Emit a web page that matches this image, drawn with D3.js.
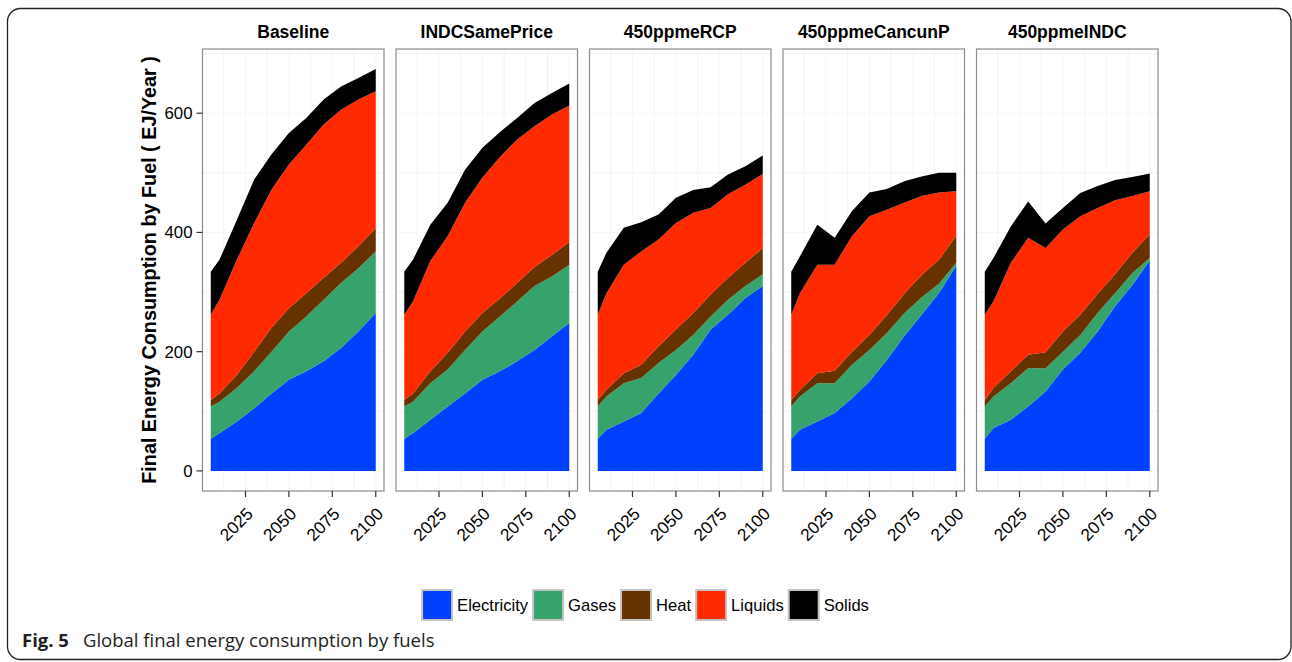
<!DOCTYPE html>
<html>
<head>
<meta charset="utf-8">
<script src="https://cdn.jsdelivr.net/npm/d3@7/dist/d3.min.js"></script>
<style>
  html, body { margin: 0; padding: 0; background: #ffffff; }
  svg { display: block; }
</style>
</head>
<body>
<svg id="chart" width="1292" height="662"></svg>
<script>
// Model periods
const years = [2005, 2010, 2020, 2030, 2040, 2050, 2060, 2070, 2080, 2090, 2100];

// Scenario facets, left to right
const scenarios = ["Baseline", "INDCSamePrice", "450ppmeRCP", "450ppmeCancunP", "450ppmeINDC"];

// Fuels in stacking order (bottom to top)
const fuels = ["Electricity", "Gases", "Heat", "Liquids", "Solids"];
const fuelColors = ["#0040ff", "#36a36d", "#663300", "#ff2a00", "#000000"];

// Final energy by fuel, EJ/year; one row per scenario in the order above
const electricity = [
  [54, 63, 83, 105, 130, 153, 167, 184, 206, 234, 265],
  [54, 63, 86, 108, 130, 153, 167, 184, 203, 226, 248],
  [54, 69, 83, 97, 130, 161, 195, 237, 262, 290, 310],
  [54, 69, 83, 97, 122, 150, 186, 226, 262, 298, 344],
  [54, 72, 86, 108, 133, 170, 198, 234, 276, 312, 353]
];
const gases = [
  [54, 53, 56, 62, 70, 81, 92, 103, 109, 106, 103],
  [54, 53, 61, 62, 73, 81, 92, 100, 107, 100, 98],
  [54, 56, 64, 59, 51, 42, 33, 22, 25, 20, 20],
  [54, 56, 64, 50, 56, 53, 45, 38, 29, 16, 5],
  [54, 53, 61, 64, 39, 30, 30, 31, 22, 20, 4]
];
const heat = [
  [11, 14, 22, 33, 40, 39, 39, 37, 34, 37, 39],
  [11, 14, 20, 28, 31, 31, 30, 31, 32, 36, 38],
  [11, 11, 17, 22, 28, 34, 37, 37, 37, 39, 44],
  [11, 11, 17, 21, 22, 25, 30, 33, 37, 40, 45],
  [11, 14, 20, 23, 27, 34, 34, 32, 32, 34, 40]
];
const liquids = [
  [143, 157, 193, 216, 232, 241, 249, 257, 257, 246, 230],
  [143, 154, 185, 196, 216, 227, 237, 241, 236, 236, 229],
  [143, 162, 182, 190, 179, 179, 168, 145, 140, 131, 124],
  [143, 162, 182, 178, 194, 199, 177, 153, 133, 113, 75],
  [143, 145, 182, 196, 175, 171, 165, 144, 124, 95, 72]
];
const solids = [
  [72, 67, 67, 73, 59, 53, 45, 42, 39, 36, 37],
  [72, 70, 61, 56, 55, 50, 42, 36, 39, 36, 37],
  [72, 68, 62, 49, 42, 42, 38, 35, 33, 31, 31],
  [72, 62, 67, 45, 42, 40, 35, 36, 33, 33, 31],
  [72, 73, 61, 61, 41, 36, 39, 37, 34, 32, 30]
];

const yTicks = [0, 200, 400, 600];
const xTicks = [2025, 2050, 2075, 2100];
const yTitle = "Final Energy Consumption by Fuel ( EJ/Year )";
const captionLabel = "Fig. 5";
const captionText = "Global final energy consumption by fuels";

const seriesByFuel = [electricity, gases, heat, liquids, solids];

// ---- layout ----
const svg = d3.select("#chart");
const FONT = '"Liberation Sans", Arial, Helvetica, sans-serif';
const CAPTION_FONT = '"Open Sans", "Noto Sans", sans-serif';
const panelTop = 49, panelBottom = 491;
const panelLeft0 = 202.5, panelW = 181.5, panelGap = 12;
const panelH = panelBottom - panelTop;

// Outer figure frame
svg.append("rect")
  .attr("x", 7.5).attr("y", 8.5)
  .attr("width", 1283.5).attr("height", 651)
  .attr("rx", 13).attr("ry", 13)
  .attr("fill", "none").attr("stroke", "#231f20").attr("stroke-width", 1.3);

// Build stacked tables per scenario
const tables = scenarios.map((s, si) => years.map((yr, i) => {
  const row = { year: yr };
  fuels.forEach((f, fi) => { row[f] = seriesByFuel[fi][si][i]; });
  return row;
}));
const stack = d3.stack().keys(fuels);
const stacked = tables.map(t => stack(t));

const maxTotal = d3.max(stacked, st => d3.max(st[st.length - 1], d => d[1]));
const yPad = maxTotal * 0.05;
const xPad = (years[years.length - 1] - years[0]) * 0.05;

const x = d3.scaleLinear()
  .domain([years[0] - xPad, years[years.length - 1] + xPad])
  .range([0, panelW]);
const y = d3.scaleLinear()
  .domain([-yPad, maxTotal + yPad])
  .range([panelH, 0]);

const area = d3.area()
  .x(d => x(d.data.year))
  .y0(d => y(d[0]))
  .y1(d => y(d[1]));

scenarios.forEach((name, si) => {
  const left = panelLeft0 + si * (panelW + panelGap);
  const g = svg.append("g").attr("transform", `translate(${left},${panelTop})`);

  // panel background and grid
  g.append("rect").attr("width", panelW).attr("height", panelH).attr("fill", "#ffffff");
  const minorX = xTicks.map(t => t - 12.5);
  const minorY = [100, 300, 500, 700];
  g.selectAll(".gx-minor").data(minorX).join("line")
    .attr("x1", d => x(d)).attr("x2", d => x(d))
    .attr("y1", 0).attr("y2", panelH)
    .attr("stroke", "#f2f2f2").attr("stroke-width", 1);
  g.selectAll(".gy-minor").data(minorY).join("line")
    .attr("x1", 0).attr("x2", panelW)
    .attr("y1", d => y(d)).attr("y2", d => y(d))
    .attr("stroke", "#f2f2f2").attr("stroke-width", 1);
  g.selectAll(".gx-major").data(xTicks).join("line")
    .attr("x1", d => x(d)).attr("x2", d => x(d))
    .attr("y1", 0).attr("y2", panelH)
    .attr("stroke", "#f7f7f7").attr("stroke-width", 1);
  g.selectAll(".gy-major").data(yTicks).join("line")
    .attr("x1", 0).attr("x2", panelW)
    .attr("y1", d => y(d)).attr("y2", d => y(d))
    .attr("stroke", "#f7f7f7").attr("stroke-width", 1);

  // stacked areas
  g.selectAll("path.layer").data(stacked[si]).join("path")
    .attr("class", "layer")
    .attr("d", area)
    .attr("fill", (d, i) => fuelColors[i]);

  // panel border
  g.append("rect").attr("width", panelW).attr("height", panelH)
    .attr("fill", "none").attr("stroke", "#8c8c8c").attr("stroke-width", 1.2);

  // strip title
  svg.append("text")
    .attr("x", left + panelW / 2).attr("y", 38)
    .attr("text-anchor", "middle")
    .attr("font-family", FONT).attr("font-weight", "bold").attr("font-size", 17.5)
    .text(name);

  // x axis ticks and rotated labels
  const ax = svg.append("g").attr("transform", `translate(${left},${panelBottom})`);
  ax.selectAll("line").data(xTicks).join("line")
    .attr("x1", d => x(d)).attr("x2", d => x(d))
    .attr("y1", 0).attr("y2", 6)
    .attr("stroke", "#333").attr("stroke-width", 1.2);
  ax.selectAll("text").data(xTicks).join("text")
    .attr("transform", d => `translate(${x(d) + 8.5},${24}) rotate(-45)`)
    .attr("text-anchor", "end")
    .attr("font-family", FONT).attr("font-size", 17.2)
    .text(d => d);

  // y axis on the first facet only
  if (si === 0) {
    const ay = svg.append("g").attr("transform", `translate(${left},${panelTop})`);
    ay.selectAll("line").data(yTicks).join("line")
      .attr("x1", -6).attr("x2", 0)
      .attr("y1", d => y(d)).attr("y2", d => y(d))
      .attr("stroke", "#333").attr("stroke-width", 1.2);
    ay.selectAll("text").data(yTicks).join("text")
      .attr("x", -10).attr("y", d => y(d))
      .attr("dy", "0.36em")
      .attr("text-anchor", "end")
      .attr("font-family", FONT).attr("font-size", 16.8)
      .text(d => d);
  }
});

// y axis title
svg.append("text")
  .attr("transform", `translate(155.5,${(panelTop + panelBottom) / 2}) rotate(-90)`)
  .attr("text-anchor", "middle")
  .attr("font-family", FONT).attr("font-weight", "bold").attr("font-size", 19.8)
  .text(yTitle);

// legend, laid out as a centred row
const legend = svg.append("g");
const keySize = 30, keyGap = 4, itemGap = 4;
let cursor = 0;
fuels.forEach((f, i) => {
  const it = legend.append("g");
  it.append("rect")
    .attr("x", cursor + 1).attr("y", 590)
    .attr("width", keySize).attr("height", keySize)
    .attr("fill", fuelColors[i]).attr("stroke", "#c4c4c4").attr("stroke-width", 2);
  const t = it.append("text")
    .attr("x", cursor + keySize + 2 + keyGap).attr("y", 611)
    .attr("font-family", FONT).attr("font-size", 16.6)
    .text(f);
  cursor += keySize + 2 + keyGap + t.node().getComputedTextLength() + itemGap;
});
const legendWidth = cursor - itemGap;
legend.attr("transform", `translate(${645 - legendWidth / 2},0)`);

// caption
svg.append("text")
  .attr("x", 22).attr("y", 647)
  .attr("font-family", CAPTION_FONT).attr("font-size", 18.5).attr("font-weight", "bold")
  .attr("fill", "#231f20")
  .text(captionLabel);
svg.append("text")
  .attr("x", 83).attr("y", 647)
  .attr("font-family", CAPTION_FONT).attr("font-size", 18.5)
  .attr("fill", "#231f20")
  .text(captionText);
</script>
</body>
</html>
